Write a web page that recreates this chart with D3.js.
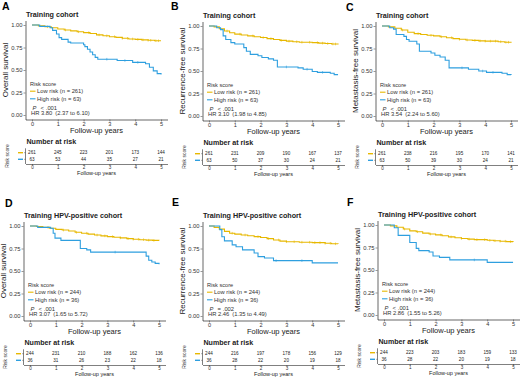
<!DOCTYPE html>
<html>
<head>
<meta charset="utf-8">
<script src="https://cdn.jsdelivr.net/npm/d3@7/dist/d3.min.js"></script>
<style>
body { margin: 0; background: #fff; }
svg { display: block; font-family: "Liberation Sans", Arial, sans-serif; }
</style>
</head>
<body>
<svg></svg>
<script>
const svg = d3.select("svg")
    .attr("width", 520)
    .attr("height", 378);

// shared tick values
const years = [0, 1, 2, 3, 4, 5];
const survTicks = [0, 0.25, 0.5, 0.75, 1];

const letters = ["A", "B", "C", "D", "E", "F"];
const titles = ["Training cohort", "Training cohort", "Training cohort",
    "Training HPV-positive cohort", "Training HPV-positive cohort", "Training HPV-positive cohort"];
const yLabels = ["Overall survival", "Recurrence-free survival", "Metastasis-free survival",
    "Overall survival", "Recurrence-free survival", "Metastasis-free survival"];
const nLow = [261, 261, 261, 244, 244, 244];
const nHigh = [63, 63, 63, 36, 36, 36];
const pSign = ["<", "<", "<", "<", "=", "<"];
const pValue = [".001", ".001", ".001", ".001", ".002", ".001"];
const hrText = ["3.80", "3.10", "3.54", "3.07", "2.46", "2.86"];
const ciText = ["(2.37 to 6.10)", "(1.98 to 4.85)", "(2.24 to 5.60)",
    "(1.65 to 5.72)", "(1.35 to 4.49)", "(1.55 to 5.26)"];

// number at risk tables
const riskLowA = [261, 245, 223, 201, 173, 144];
const riskHighA = [63, 53, 44, 35, 27, 21];
const riskLowB = [261, 231, 209, 190, 167, 137];
const riskHighB = [63, 50, 37, 30, 24, 21];
const riskLowC = [261, 238, 216, 195, 170, 141];
const riskHighC = [63, 50, 39, 30, 24, 21];
const riskLowD = [244, 231, 210, 188, 162, 136];
const riskHighD = [36, 31, 26, 23, 22, 18];
const riskLowE = [244, 216, 197, 178, 156, 129];
const riskHighE = [36, 28, 22, 20, 19, 18];
const riskLowF = [244, 223, 203, 183, 159, 133];
const riskHighF = [36, 28, 22, 20, 19, 18];

// KM curves: [years, survival]
const lowA = [[0,1],[0.25,0.99],[0.5,0.98],[0.75,0.97],[1,0.955],[1.25,0.945],[1.5,0.935],[1.75,0.925],[2,0.915],[2.25,0.905],[2.5,0.89],[2.75,0.88],[3,0.87],[3.25,0.862],[3.5,0.852],[3.75,0.845],[4,0.84],[4.25,0.835],[4.5,0.83],[4.75,0.825],[5,0.825]];
const highA = [[0,1],[0.3,0.985],[0.7,0.97],[0.8,0.94],[0.95,0.9],[1.05,0.86],[1.15,0.84],[1.4,0.81],[1.5,0.8],[2,0.78],[2.05,0.76],[2.15,0.73],[2.25,0.7],[2.35,0.67],[2.45,0.64],[2.55,0.62],[3.3,0.605],[3.9,0.585],[4.4,0.57],[4.55,0.53],[4.7,0.49],[4.85,0.46],[5,0.45]];
const lowB = [[0,1],[0.2,0.99],[0.4,0.97],[0.6,0.945],[0.8,0.925],[1,0.91],[1.25,0.9],[1.5,0.89],[1.75,0.88],[2,0.872],[2.25,0.86],[2.5,0.85],[2.75,0.84],[3,0.832],[3.25,0.825],[3.5,0.82],[4,0.815],[4.25,0.81],[4.5,0.805],[4.75,0.8],[5,0.795]];
const highB = [[0,1],[0.3,0.98],[0.45,0.96],[0.55,0.89],[0.65,0.85],[0.85,0.815],[1,0.8],[1.35,0.76],[1.45,0.72],[1.6,0.685],[1.9,0.67],[2.05,0.65],[2.3,0.635],[2.5,0.62],[2.65,0.545],[3.45,0.535],[3.65,0.52],[4,0.495],[4.2,0.485],[4.7,0.475],[4.85,0.46],[5,0.46]];
const lowC = [[0,1],[0.25,0.99],[0.5,0.975],[0.75,0.955],[1,0.93],[1.25,0.915],[1.5,0.905],[1.75,0.897],[2,0.89],[2.25,0.88],[2.5,0.87],[2.75,0.86],[3,0.852],[3.25,0.845],[3.5,0.84],[3.75,0.835],[4,0.832],[4.5,0.825],[4.75,0.82],[5,0.815]];
const highC = [[0,1],[0.3,0.98],[0.45,0.965],[0.55,0.905],[0.85,0.885],[0.95,0.85],[1.05,0.83],[1.35,0.8],[1.45,0.72],[1.9,0.7],[2.05,0.675],[2.25,0.655],[2.45,0.62],[2.6,0.535],[3.35,0.52],[3.75,0.5],[4.05,0.485],[4.65,0.475],[4.85,0.46],[5,0.455]];
const lowD = [[0,1],[0.25,0.995],[0.5,0.985],[0.75,0.975],[1,0.963],[1.25,0.955],[1.5,0.945],[1.75,0.93],[2,0.92],[2.25,0.91],[2.5,0.9],[2.75,0.89],[3,0.882],[3.25,0.875],[3.5,0.868],[3.75,0.86],[4,0.853],[4.25,0.848],[4.5,0.843],[4.75,0.84],[5,0.838]];
const highD = [[0,1],[0.3,0.985],[0.8,0.975],[0.9,0.92],[0.97,0.865],[1.2,0.84],[1.95,0.75],[2.2,0.735],[2.35,0.71],[4.5,0.665],[4.6,0.62],[4.72,0.6],[4.85,0.585],[5,0.575]];
const lowE = [[0,1],[0.2,0.985],[0.4,0.965],[0.6,0.94],[0.8,0.92],[1,0.91],[1.25,0.9],[1.5,0.892],[1.75,0.882],[2,0.872],[2.25,0.86],[2.5,0.845],[2.75,0.832],[3,0.825],[3.5,0.82],[4,0.815],[4.5,0.808],[4.75,0.802],[5,0.8]];
const highE = [[0,1],[0.42,0.96],[0.5,0.88],[0.6,0.835],[0.9,0.79],[1.05,0.77],[1.3,0.735],[1.75,0.7],[1.9,0.66],[2.15,0.645],[2.5,0.615],[4,0.59],[5,0.59]];
const lowF = [[0,1],[0.25,0.99],[0.5,0.975],[0.75,0.955],[1,0.935],[1.25,0.925],[1.5,0.91],[1.75,0.9],[2,0.89],[2.25,0.88],[2.5,0.868],[2.75,0.858],[3,0.85],[3.25,0.843],[3.5,0.837],[4,0.83],[4.25,0.825],[4.5,0.82],[4.75,0.815],[5,0.812]];
const highF = [[0,1],[0.4,0.97],[0.55,0.885],[1,0.805],[1.25,0.74],[1.35,0.715],[1.75,0.7],[1.9,0.655],[2.15,0.64],[2.55,0.612],[4,0.585],[5,0.585]];

// censor marks (years)
const censorLowA = [0.6, 1.3, 1.8, 2.2, 2.6, 2.9, 3.2, 3.5, 3.7, 3.9, 4.1, 4.3, 4.5, 4.6, 4.8, 4.9];
const censorHighA = [2.9, 3.6, 4.1];
const censorLowB = [0.7, 1.2, 1.7, 2.1, 2.4, 2.8, 3.1, 3.4, 3.6, 3.9, 4.2, 4.4, 4.6, 4.8, 4.9];
const censorHighB = [3.0, 3.8, 4.4];
const censorLowC = [0.8, 1.4, 1.9, 2.3, 2.7, 3.0, 3.3, 3.6, 3.8, 4.0, 4.2, 4.4, 4.6, 4.8, 4.9];
const censorHighC = [3.1, 3.9, 4.3];
const censorLowD = [0.7, 1.3, 1.8, 2.2, 2.6, 2.9, 3.2, 3.5, 3.8, 4.0, 4.2, 4.4, 4.6, 4.8];
const censorHighD = [3.3];
const censorLowE = [0.9, 1.4, 1.9, 2.3, 2.7, 3.0, 3.3, 3.6, 3.9, 4.1, 4.3, 4.5, 4.7, 4.9];
const censorHighE = [2.6, 3.6];
const censorLowF = [0.8, 1.3, 1.8, 2.2, 2.6, 3.0, 3.3, 3.6, 3.9, 4.1, 4.3, 4.5, 4.7, 4.9];
const censorHighF = [3.5];

const panels = [
    { low: lowA, high: highA, cLow: censorLowA, cHigh: censorHighA, rLow: riskLowA, rHigh: riskHighA },
    { low: lowB, high: highB, cLow: censorLowB, cHigh: censorHighB, rLow: riskLowB, rHigh: riskHighB },
    { low: lowC, high: highC, cLow: censorLowC, cHigh: censorHighC, rLow: riskLowC, rHigh: riskHighC },
    { low: lowD, high: highD, cLow: censorLowD, cHigh: censorHighD, rLow: riskLowD, rHigh: riskHighD },
    { low: lowE, high: highE, cLow: censorLowE, cHigh: censorHighE, rLow: riskLowE, rHigh: riskHighE },
    { low: lowF, high: highF, cLow: censorLowF, cHigh: censorHighF, rLow: riskLowF, rHigh: riskHighF }
];

// layout
const offsets = [[0, 0], [177, 1], [350, 1], [-2, 201], [177, 201], [352, 200]];
const letterPos = [[2, 10], [171, 10], [346, 11], [5, 207], [172, 206], [347, 206]];
const colLow = "#E7B800";
const colHigh = "#2E9FDF";

function stepValue(curve, t) {
    let v = curve[0][1];
    for (const p of curve) if (p[0] <= t) v = p[1];
    return v;
}

function styleAxis(sel, size) {
    sel.select(".domain").attr("stroke", "#000").attr("stroke-width", 0.6);
    sel.selectAll(".tick line").attr("stroke", "#333").attr("stroke-width", 0.5);
    sel.selectAll(".tick text")
        .attr("fill", "#333")
        .style("font-size", size + "px")
        .style("font-family", "Liberation Sans, Arial, sans-serif");
}

function drawPanel(i) {
    const p = panels[i];
    const [dx, dy] = offsets[i];

    svg.append("text")
        .attr("x", letterPos[i][0])
        .attr("y", letterPos[i][1])
        .attr("font-size", 10.5)
        .attr("font-weight", "bold")
        .text(letters[i]);

    const g = svg.append("g").attr("transform", `translate(${dx},${dy})`);

    const x = d3.scaleLinear().domain([-0.25, 5.25]).range([25.5, 167.5]);
    const y = d3.scaleLinear().domain([-0.05, 1.05]).range([119.5, 20.5]);

    g.append("text")
        .attr("x", 26)
        .attr("y", 16.5)
        .attr("font-size", 7.2)
        .attr("font-weight", "bold")
        .attr("fill", "#222")
        .text(titles[i]);

    g.append("g")
        .attr("transform", "translate(25.5,0)")
        .call(d3.axisLeft(y).tickValues(survTicks).tickFormat(d3.format(".2f"))
            .tickSize(2).tickPadding(1).tickSizeOuter(0))
        .call(s => styleAxis(s, 5.8));

    g.append("g")
        .attr("transform", "translate(0,119.5)")
        .call(d3.axisBottom(x).tickValues(years).tickFormat(d3.format("d"))
            .tickSize(2).tickPadding(0.4).tickSizeOuter(0))
        .call(s => styleAxis(s, 5.6));

    g.append("text")
        .attr("transform", `translate(8,70) rotate(-90)`)
        .attr("text-anchor", "middle")
        .attr("font-size", 8)
        .attr("fill", "#222")
        .text(yLabels[i]);

    g.append("text")
        .attr("x", 96.5)
        .attr("y", 132.6)
        .attr("text-anchor", "middle")
        .attr("font-size", 7.5)
        .attr("fill", "#222")
        .text("Follow-up years");

    const line = d3.line()
        .x(d => x(d[0]))
        .y(d => y(d[1]))
        .curve(d3.curveStepAfter);

    [[p.low, p.cLow, colLow], [p.high, p.cHigh, colHigh]].forEach(([curve, cens, col]) => {
        g.append("path")
            .attr("d", line(curve))
            .attr("fill", "none")
            .attr("stroke", col)
            .attr("stroke-width", 1.1);
        g.selectAll(null)
            .data(cens)
            .enter()
            .append("line")
            .attr("x1", d => x(d))
            .attr("x2", d => x(d))
            .attr("y1", d => y(stepValue(curve, d)) - 1.3)
            .attr("y2", d => y(stepValue(curve, d)) + 1.3)
            .attr("stroke", col)
            .attr("stroke-width", 0.6);
    });

    // legend
    g.append("text")
        .attr("x", 30)
        .attr("y", 85.5)
        .attr("font-size", 5.6)
        .attr("fill", "#333")
        .text("Risk score");

    [[colLow, `Low risk (n = ${nLow[i]})`, 91.2], [colHigh, `High risk (n = ${nHigh[i]})`, 98.8]]
        .forEach(([col, label, ly]) => {
            g.append("line")
                .attr("x1", 30).attr("x2", 35.5)
                .attr("y1", ly).attr("y2", ly)
                .attr("stroke", col)
                .attr("stroke-width", 1.1);
            g.append("text")
                .attr("x", 37)
                .attr("y", ly + 2)
                .attr("font-size", 5.8)
                .attr("fill", "#333")
                .text(label);
        });

    const pt = g.append("text")
        .attr("x", 32.5)
        .attr("y", 110)
        .attr("font-size", 5.8)
        .attr("fill", "#333");
    pt.append("tspan").attr("font-style", "italic").text("P");
    pt.append("tspan").attr("dx", 4).text(pSign[i]);
    pt.append("tspan").attr("dx", 2).text(pValue[i]);

    const hr = g.append("text")
        .attr("x", 31)
        .attr("y", 115.3)
        .attr("font-size", 5.8)
        .attr("fill", "#333");
    hr.append("tspan").text("HR " + hrText[i]);
    hr.append("tspan").attr("dx", 3).text(ciText[i]);

    // number at risk table
    g.append("text")
        .attr("x", 26.5)
        .attr("y", 144)
        .attr("font-size", 7.1)
        .attr("font-weight", "bold")
        .attr("fill", "#222")
        .text("Number at risk");

    const rows = d3.scalePoint().domain(["low", "high"]).range([152.7, 159.3]);

    g.append("line")
        .attr("x1", 25.5).attr("x2", 25.5)
        .attr("y1", 148.3).attr("y2", 164)
        .attr("stroke", "#000").attr("stroke-width", 0.5);

    g.append("g")
        .attr("transform", "translate(0,164)")
        .call(d3.axisBottom(x).tickValues(years).tickFormat(d3.format("d"))
            .tickSize(1.5).tickPadding(0.6).tickSizeOuter(0))
        .call(s => styleAxis(s, 4.6))
        .call(s => s.select(".domain").attr("stroke-width", 0.5));

    [["low", p.rLow, colLow], ["high", p.rHigh, colHigh]].forEach(([key, vals, col]) => {
        g.append("line")
            .attr("x1", 18).attr("x2", 23)
            .attr("y1", rows(key)).attr("y2", rows(key))
            .attr("stroke", col)
            .attr("stroke-width", 1.4);
        g.append("line")
            .attr("x1", 24).attr("x2", 25.5)
            .attr("y1", rows(key)).attr("y2", rows(key))
            .attr("stroke", "#333")
            .attr("stroke-width", 0.4);
        g.selectAll(null)
            .data(vals)
            .enter()
            .append("text")
            .attr("x", (d, j) => x(years[j]))
            .attr("y", rows(key) + 1.6)
            .attr("text-anchor", "middle")
            .attr("font-size", 4.6)
            .attr("fill", "#222")
            .text(d => d);
    });

    g.append("text")
        .attr("transform", "translate(8.5,156) rotate(-90)")
        .attr("text-anchor", "middle")
        .attr("font-size", 5)
        .attr("fill", "#333")
        .text("Risk score");

    g.append("text")
        .attr("x", 96.5)
        .attr("y", 175.2)
        .attr("text-anchor", "middle")
        .attr("font-size", 5.5)
        .attr("fill", "#222")
        .text("Follow-up years");
}

panels.forEach((p, i) => drawPanel(i));
</script>
</body>
</html>
